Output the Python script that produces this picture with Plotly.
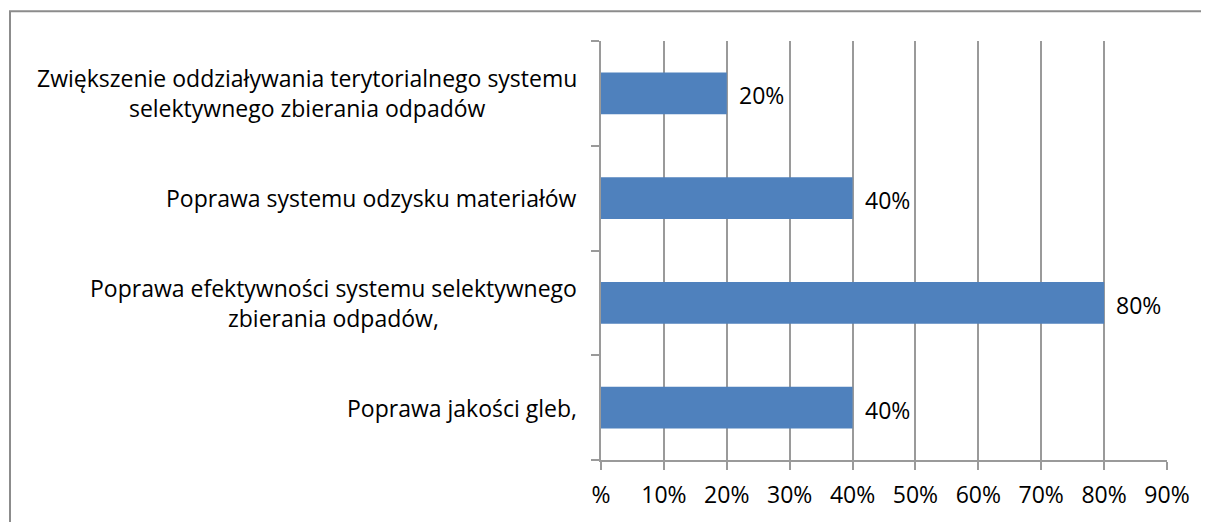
import plotly.graph_objects as go

categories = [
    "Zwiększenie oddziaływania terytorialnego systemu<br>selektywnego zbierania odpadów",
    "Poprawa systemu odzysku materiałów",
    "Poprawa efektywności systemu selektywnego<br>zbierania odpadów,",
    "Poprawa jakości gleb,",
]
values = [0.20, 0.40, 0.80, 0.40]
value_labels = ["20%", "40%", "80%", "40%"]
tick_vals = [0, 0.1, 0.2, 0.3, 0.4, 0.5, 0.6, 0.7, 0.8, 0.9]
tick_text = ["%", "10%", "20%", "30%", "40%", "50%", "60%", "70%", "80%", "90%"]

FONT = "Open Sans"
FS = 23
GRID = "#9a9a9a"

fig = go.Figure()
fig.add_trace(go.Bar(
    x=values, y=categories, orientation="h",
    marker=dict(color="#4F81BD", line=dict(width=0)),
    width=0.4,
    hoverinfo="skip",
))

annotations = []
for c in categories:
    annotations.append(dict(
        x=0, xref="paper", y=c, yref="y", text=c, showarrow=False,
        xanchor="right", yanchor="middle", align="center", xshift=-22,
        font=dict(family=FONT, size=FS, color="black"),
    ))
for c, v, t in zip(categories, values, value_labels):
    annotations.append(dict(
        x=v, xref="x", y=c, yref="y", text=t, showarrow=False,
        xanchor="left", yanchor="middle", xshift=10, yshift=-2,
        font=dict(family=FONT, size=FS, color="black"),
    ))

fig.update_layout(
    width=1201, height=514,
    margin=dict(l=593, r=42, t=33, b=60),
    paper_bgcolor="white", plot_bgcolor="white",
    showlegend=False,
    font=dict(family=FONT, size=FS, color="black"),
    annotations=annotations,
    xaxis=dict(
        range=[0, 0.9], tickvals=tick_vals, ticktext=tick_text,
        showgrid=True, gridcolor=GRID, gridwidth=1.5,
        showline=True, linecolor=GRID, linewidth=1.5,
        ticks="outside", ticklen=8, tickcolor=GRID, tickwidth=1.5,
        ticklabelstandoff=6,
        zeroline=False, fixedrange=True,
        tickfont=dict(family=FONT, size=FS, color="black"),
    ),
    yaxis=dict(
        categoryorder="array", categoryarray=categories[::-1],
        showticklabels=False, showgrid=False,
        showline=True, linecolor=GRID, linewidth=1.5,
        ticks="outside", tickson="boundaries", ticklen=8, tickcolor=GRID, tickwidth=1.5,
        zeroline=False, fixedrange=True,
    ),
    bargap=0.6,
    shapes=[dict(
        type="rect", xref="paper", yref="paper",
        x0=(10 - 601) / 566, x1=(1230 - 601) / 566,
        y0=(462 - 560) / 421, y1=(462 - 11) / 421,
        line=dict(color="#8c8c8c", width=2), layer="below",
    )],
)

fig.write_html("out.html")
